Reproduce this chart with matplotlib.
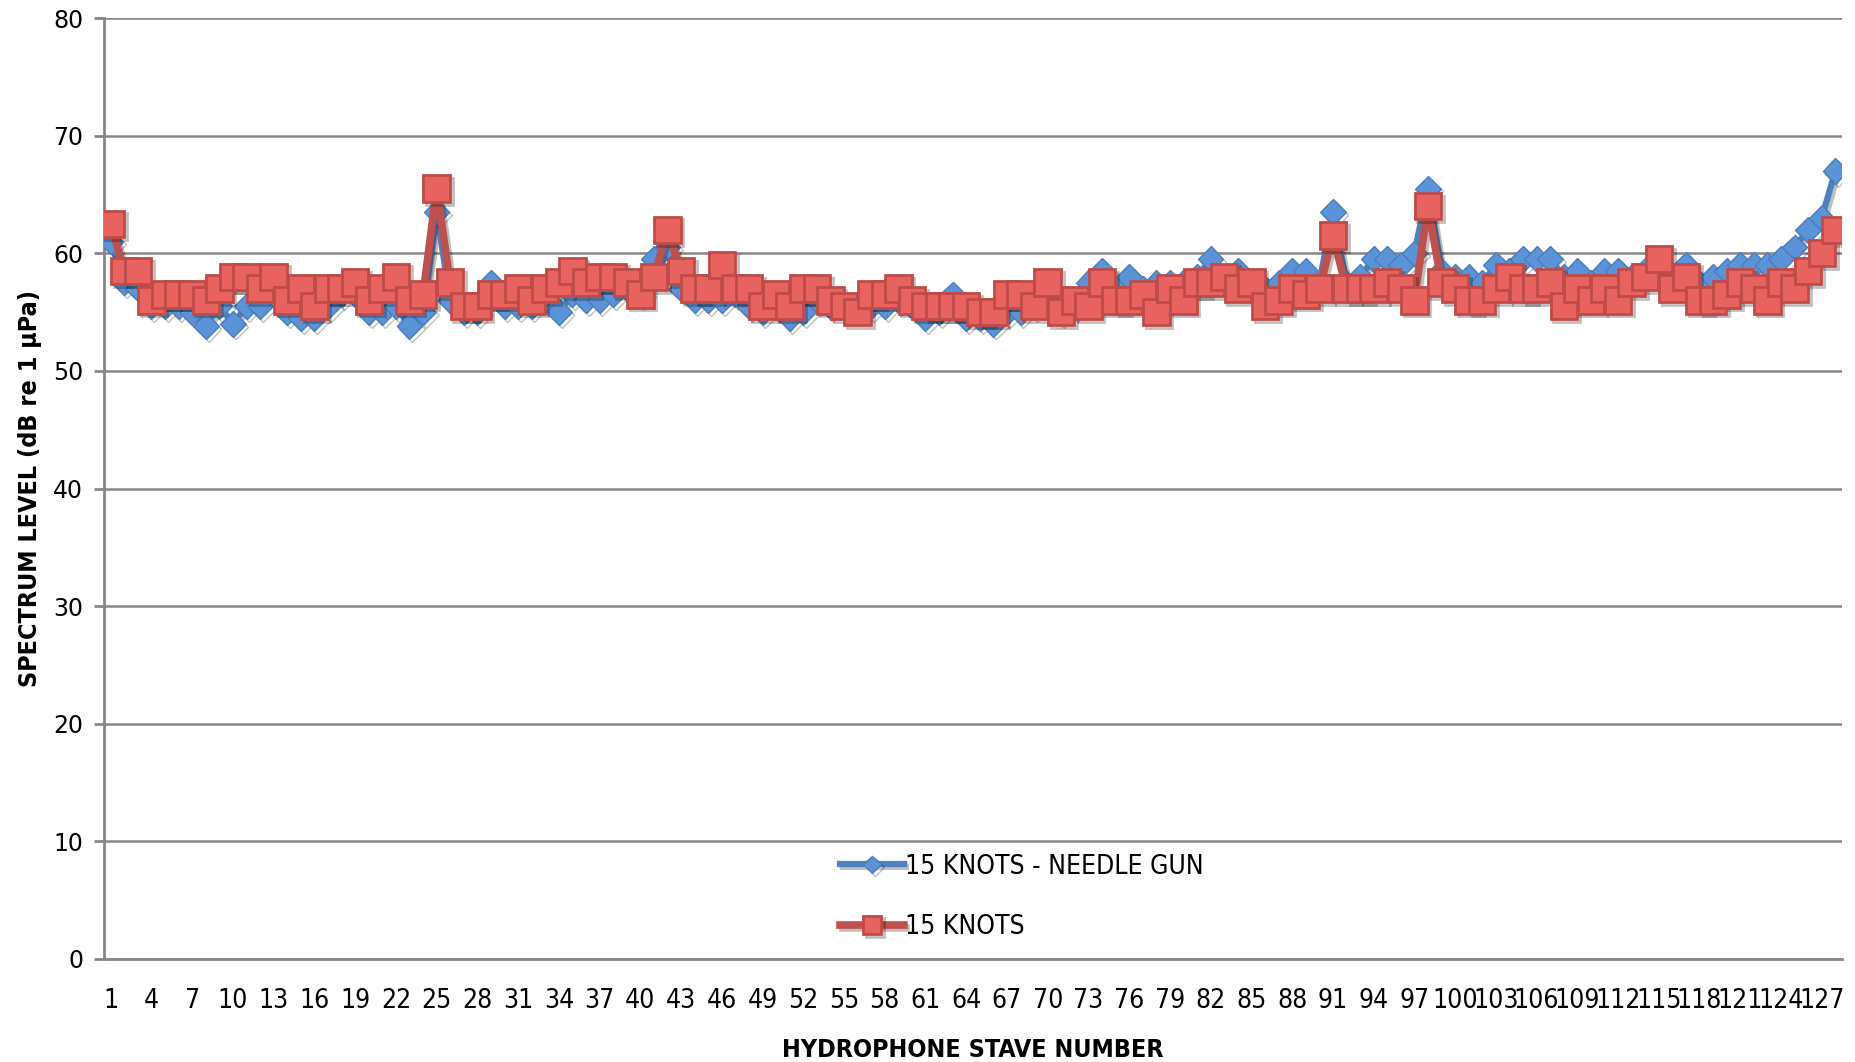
import matplotlib.pyplot as plt
import matplotlib.patheffects as pe
import numpy as np

staves = np.arange(1, 129)

needle_gun = [61, 57.5, 57, 55.5, 55.5, 55.5, 55, 53.8, 55.5, 54,
              55.5, 55.5, 57, 55, 54.5, 54.5, 55.5, 56.5, 56.5, 55,
              55, 55.5, 53.8, 55, 63.5, 56, 55, 55, 57.5, 55.5,
              55.5, 55.5, 56, 55, 56.5, 56, 56, 56.5, 57, 56.5,
              59.5, 60.5, 57, 56, 56, 56, 56.5, 55.5, 55, 55.5,
              54.5, 55, 56, 55.5, 55.5, 55.5, 55.5, 55.5, 56, 55.5,
              54.5, 55, 56.5, 54.5, 54.5, 54, 55, 55, 55.5, 56.5,
              55, 55.5, 57.5, 58.5, 57, 58, 57, 57.5, 57.5, 57.5,
              58, 59.5, 58, 58.5, 57.5, 57, 57.5, 58.5, 58.5, 57.5,
              63.5, 57.5, 58, 59.5, 59.5, 59, 60, 65.5, 58.5, 58,
              58, 57.5, 59, 58.5, 59.5, 59.5, 59.5, 58, 58.5, 57.5,
              58.5, 58.5, 58, 58.5, 59, 58, 59, 57.5, 58, 58.5,
              59, 59, 59, 59.5, 60.5, 62, 63, 67]

knots15 = [62.5, 58.5, 58.5, 56, 56.5, 56.5, 56.5, 56, 57, 58,
           58, 57, 58, 56, 57, 55.5, 57, 57, 57.5, 56,
           57, 58, 56, 56.5, 65.5, 57.5, 55.5, 55.5, 56.5, 56.5,
           57, 56, 57, 57.5, 58.5, 57.5, 58, 58, 57.5, 56.5,
           58, 62, 58.5, 57, 57, 59, 57, 57, 55.5, 56.5,
           55.5, 57, 57, 56, 55.5, 55, 56.5, 56.5, 57, 56,
           55.5, 55.5, 55.5, 55.5, 55, 55, 56.5, 56.5, 55.5, 57.5,
           55, 56, 55.5, 57.5, 56, 56, 56.5, 55, 57, 56,
           57.5, 57.5, 58, 57, 57.5, 55.5, 56, 57, 56.5, 57,
           61.5, 57, 57, 57, 57.5, 57, 56, 64, 57.5, 57,
           56, 56, 57, 58, 57, 57, 57.5, 55.5, 57, 56,
           57, 56, 57.5, 58, 59.5, 57, 58, 56, 56, 56.5,
           57.5, 57, 56, 57.5, 57, 58.5, 60, 62]

tick_staves = np.arange(1, 129, 3)

fig = plt.figure(figsize=(18.56, 10.62), dpi=100)
ax = fig.add_axes([0.056, 0.097, 0.9365, 0.886])

shadow = [pe.SimpleLineShadow(offset=(2, -2), alpha=0.25), pe.Normal()]

ax.plot(staves, needle_gun, color='#4F81BD', lw=4.5, marker='D', ms=13,
        mfc='#5B93D8', mec='#4A7EBB', mew=1, label='15 KNOTS - NEEDLE GUN',
        zorder=3, path_effects=shadow)
ax.plot(staves, knots15, color='#C0504D', lw=5.5, marker='s', ms=19,
        mfc='#E8625F', mec='#BE4B48', mew=2, label='15 KNOTS',
        zorder=4, path_effects=shadow)

ax.set_xlim(0.5, 128.5)
ax.set_ylim(0, 80)
ax.set_yticks(np.arange(0, 81, 10))
ax.set_xticks(tick_staves)
ax.set_xticklabels([str(t) for t in tick_staves], fontstretch='condensed', fontsize=19)
ax.tick_params(axis='x', length=0, pad=21)
ax.tick_params(axis='y', length=7, width=2, color='#868686', labelsize=17, pad=8)

ax.grid(axis='y', color='#868686', lw=1.8)
ax.set_axisbelow(True)
for s in ['top', 'right']:
    ax.spines[s].set_visible(False)
for s in ['left', 'bottom']:
    ax.spines[s].set_color('#868686')
    ax.spines[s].set_linewidth(2)

ax.set_xlabel('HYDROPHONE STAVE NUMBER', fontstretch='condensed', fontsize=18,
              fontweight='bold', labelpad=17)
ax.set_ylabel('SPECTRUM LEVEL (dB re 1 \u00b5Pa)', fontstretch='condensed', fontsize=18,
              fontweight='bold', labelpad=8)

ax.legend(loc='center left', bbox_to_anchor=(0.41, 0.066), frameon=False,
          prop={'stretch': 'condensed', 'size': 19}, labelspacing=1.3,
          handlelength=2.4, handletextpad=0.05, markerscale=0.7)

fig.savefig('out.png', dpi=100)
